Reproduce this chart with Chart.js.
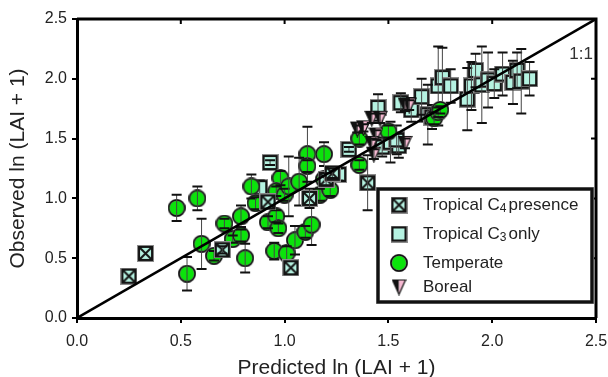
<!DOCTYPE html>
<html>
<head>
<meta charset="utf-8">
<script src="https://cdn.jsdelivr.net/npm/chart.js@4.4.1/dist/chart.umd.min.js"></script>
<style>
  html, body { margin: 0; padding: 0; background: #fff; }
  #wrap { width: 608px; height: 377px; }
</style>
</head>
<body>
<div id="wrap"><canvas id="grafico"></canvas></div>
<script>
const tickVals = [0, 0.5, 1.0, 1.5, 2.0, 2.5];
const nomes = ["Tropical C4 presence", "Tropical C3 only", "Temperate", "Boreal"];

const c4X = [0.25, 0.33, 0.70, 0.92, 1.03, 1.12, 1.20, 1.23, 1.40];
const c4Y = [0.35, 0.54, 0.57, 0.97, 0.42, 1.00, 1.16, 1.21, 1.13];
const c4Err = [0, 0, 0.03, 0, 0, 0.08, 0.05, 0.04, 0.23];

const c3X = [0.93, 0.88, 1.26, 1.31, 1.45, 1.47, 1.51, 1.55, 1.54, 1.56, 1.61, 1.66, 1.69, 1.71,
             1.74, 1.76, 1.80, 1.88, 1.90, 1.92, 1.95, 1.98, 2.01, 2.05, 2.10, 2.12, 2.14, 2.18];
const c3Y = [1.30, 1.09, 1.20, 1.41, 1.76, 1.43, 1.47, 1.44, 1.49, 1.80, 1.74, 1.85, 1.70, 1.68,
             1.94, 2.01, 1.94, 1.83, 1.94, 2.07, 1.95, 1.99, 1.96, 2.04, 1.97, 2.07, 1.98, 2.00];
const c3Err = [0.02, 0.06, 0.05, 0.02, 0.11, 0.08, 0.17, 0.10, 0.12, 0.08, 0.10, 0.15, 0.25, 0.10,
               0.33, 0.25, 0.14, 0.26, 0.20, 0.14, 0.32, 0.23, 0.12, 0.18, 0.18, 0.15, 0.27, 0.14];

const tempX = [0.48, 0.58, 0.53, 0.60, 0.66, 0.71, 0.75, 0.79, 0.79, 0.81, 0.84, 0.86, 0.92, 0.95,
               0.96, 0.97, 0.98, 0.96, 1.00, 1.02, 1.01, 1.05, 1.07, 1.11, 1.11, 1.10, 1.13, 1.19,
               1.17, 1.22, 1.19, 1.36, 1.36, 1.50, 1.72, 1.74, 1.75];
const tempY = [0.92, 1.00, 0.37, 0.62, 0.52, 0.79, 0.66, 0.69, 0.85, 0.50, 1.10, 0.96, 0.80, 0.56,
               0.85, 0.75, 1.17, 1.06, 1.03, 1.10, 0.54, 0.65, 1.14, 1.37, 1.27, 0.72, 0.78, 1.37,
               1.03, 1.07, 1.16, 1.28, 1.50, 1.56, 1.67, 1.72, 1.74];
const tempErr = [0.11, 0.10, 0.14, 0.21, 0.04, 0.04, 0.03, 0.05, 0.09, 0.12, 0.10, 0.05, 0.05, 0.07,
                 0.05, 0.04, 0.06, 0.04, 0.05, 0.25, 0.06, 0.12, 0.20, 0.23, 0.05, 0.05, 0.17, 0.10,
                 0.05, 0.05, 0.04, 0.04, 0.05, 0.05, 0.05, 0.04, 0.03];

const borX = [1.35, 1.38, 1.42, 1.46, 1.44, 1.42, 1.43, 1.58, 1.58, 1.60];
const borY = [1.58, 1.59, 1.67, 1.67, 1.53, 1.46, 1.37, 1.46, 1.78, 1.78];
const borErr = [0.03, 0.03, 0.04, 0.04, 0.04, 0.04, 0.04, 0.04, 0.05, 0.04];

const fonte = "'Liberation Sans', Arial, sans-serif";

function pontos(xs, ys) {
  return xs.map((x, i) => ({ x: x, y: ys[i] }));
}

// marcadores desenhados em canvas pequenos
function marcadorQuadrado(cruz) {
  const c = document.createElement("canvas");
  c.width = 17; c.height = 17;
  const g = c.getContext("2d");
  g.fillStyle = "#b5f2e1";
  g.fillRect(1, 1, 15, 15);
  g.strokeStyle = "#8c8c8c"; g.lineWidth = 1;
  g.strokeRect(0.5, 0.5, 16, 16);
  g.strokeStyle = "#151515"; g.lineWidth = 2;
  g.strokeRect(2, 2, 13, 13);
  if (cruz) {
    g.beginPath();
    g.moveTo(2.5, 2.5); g.lineTo(14.5, 14.5);
    g.moveTo(14.5, 2.5); g.lineTo(2.5, 14.5);
    g.stroke();
  }
  return c;
}

function marcadorCirculo() {
  const c = document.createElement("canvas");
  c.width = 18; c.height = 18;
  const g = c.getContext("2d");
  g.beginPath();
  g.arc(9, 9, 8, 0, Math.PI * 2);
  g.fillStyle = "#0be30b"; g.fill();
  g.strokeStyle = "#777"; g.lineWidth = 2.2; g.stroke();
  g.strokeStyle = "#111"; g.lineWidth = 1.4; g.stroke();
  return c;
}

function marcadorTriangulo() {
  const c = document.createElement("canvas");
  c.width = 15; c.height = 17;
  const g = c.getContext("2d");
  g.beginPath();
  g.moveTo(1, 1.5); g.lineTo(7.5, 1.5); g.lineTo(7.5, 16); g.closePath();
  g.fillStyle = "#111"; g.fill();
  g.beginPath();
  g.moveTo(7.5, 1.5); g.lineTo(14, 1.5); g.lineTo(7.5, 16); g.closePath();
  g.fillStyle = "#f6b9d2"; g.fill();
  g.beginPath();
  g.moveTo(1, 1.5); g.lineTo(14, 1.5); g.lineTo(7.5, 16); g.closePath();
  g.strokeStyle = "#111"; g.lineWidth = 1.2; g.stroke();
  return c;
}

const mkC4 = marcadorQuadrado(true);
const mkC3 = marcadorQuadrado(false);
const mkTemp = marcadorCirculo();
const mkBor = marcadorTriangulo();

// barras de erro desenhadas logo depois de cada serie
const barrasErro = {
  id: "barrasErro",
  afterDatasetDraw(chart, args) {
    const ds = chart.data.datasets[args.index];
    if (!ds.errs) return;
    const ctx = chart.ctx;
    const ys = chart.scales.y;
    ctx.save();
    args.meta.data.forEach((pt, i) => {
      const e = ds.errs[i];
      if (!e) return;
      const v = ds.data[i].y;
      const topo = ys.getPixelForValue(v + e);
      const base = ys.getPixelForValue(v - e);
      ctx.strokeStyle = "#444";
      ctx.lineWidth = 1;
      ctx.beginPath();
      ctx.moveTo(pt.x, topo); ctx.lineTo(pt.x, base);
      ctx.stroke();
      ctx.strokeStyle = "#111";
      ctx.lineWidth = 2;
      ctx.beginPath();
      ctx.moveTo(pt.x - 5, topo); ctx.lineTo(pt.x + 5, topo);
      ctx.moveTo(pt.x - 5, base); ctx.lineTo(pt.x + 5, base);
      ctx.stroke();
    });
    ctx.restore();
  }
};

// moldura, marcas internas, legenda e texto 1:1
const decoracao = {
  id: "decoracao",
  afterDraw(chart) {
    const ctx = chart.ctx;
    const a = chart.chartArea;
    const xs = chart.scales.x, ys = chart.scales.y;
    ctx.save();
    ctx.strokeStyle = "#000";
    ctx.lineWidth = 3;
    ctx.beginPath();
    ctx.moveTo(a.left, a.top); ctx.lineTo(a.right, a.top); ctx.lineTo(a.right, a.bottom);
    ctx.stroke();
    ctx.lineWidth = 2;
    ctx.beginPath();
    tickVals.slice(1, -1).forEach(v => {
      const px = xs.getPixelForValue(v);
      ctx.moveTo(px, a.top); ctx.lineTo(px, a.top + 5);
      const py = ys.getPixelForValue(v);
      ctx.moveTo(a.right, py); ctx.lineTo(a.right - 5, py);
    });
    ctx.stroke();

    ctx.fillStyle = "#333";
    ctx.font = "17px " + fonte;
    ctx.textAlign = "right";
    ctx.textBaseline = "alphabetic";
    ctx.fillText("1:1", 593, 59);

    // legenda
    const lx = 378, ly = 189, lw = 214, lh = 113;
    ctx.fillStyle = "#fff";
    ctx.fillRect(lx, ly, lw, lh);
    ctx.strokeStyle = "#8c8c8c"; ctx.lineWidth = 4;
    ctx.strokeRect(lx, ly, lw, lh);
    ctx.strokeStyle = "#111"; ctx.lineWidth = 3;
    ctx.strokeRect(lx, ly, lw, lh);

    const marcas = [mkC4, mkC3, mkTemp, mkBor];
    const linhasY = [205, 234, 263, 287];
    ctx.textAlign = "left";
    ctx.textBaseline = "middle";
    ctx.fillStyle = "#222";
    marcas.forEach((m, i) => {
      const cy = linhasY[i];
      ctx.drawImage(m, 399 - m.width / 2, cy - m.height / 2);
      const nome = nomes[i];
      const sub = nome.match(/C(\d)/);
      let tx = 423;
      ctx.font = "17px " + fonte;
      if (sub) {
        const antes = nome.slice(0, sub.index + 1);
        const depois = nome.slice(sub.index + 2).trim();
        ctx.fillText(antes, tx, cy);
        tx += ctx.measureText(antes).width;
        ctx.font = "12px " + fonte;
        ctx.fillText(sub[1], tx, cy + 4);
        tx += ctx.measureText(sub[1]).width + 2;
        ctx.font = "17px " + fonte;
        ctx.fillText(depois, tx, cy);
      } else {
        ctx.fillText(nome, tx, cy);
      }
    });
    ctx.restore();
  }
};

const eixoComum = {
  type: "linear",
  min: 0,
  max: 2.5,
  afterBuildTicks: s => { s.ticks = tickVals.map(v => ({ value: v })); },
  grid: { display: true, drawOnChartArea: false, drawTicks: true, tickLength: 5, color: "#000", lineWidth: 2 },
  border: { display: true, color: "#000", width: 3 },
};

new Chart(document.getElementById("grafico"), {
  type: "scatter",
  data: {
    datasets: [
      { label: nomes[1], data: pontos(c3X, c3Y), errs: c3Err, pointStyle: mkC3, order: 4 },
      { label: nomes[2], data: pontos(tempX, tempY), errs: tempErr, pointStyle: mkTemp, order: 3 },
      { label: nomes[0], data: pontos(c4X, c4Y), errs: c4Err, pointStyle: mkC4, order: 2 },
      { label: nomes[3], data: pontos(borX, borY), errs: borErr, pointStyle: mkBor, order: 1 },
      { label: "1:1", data: [{ x: 0, y: 0 }, { x: 2.5, y: 2.5 }], showLine: true,
        borderColor: "#000", borderWidth: 2.5, pointRadius: 0, order: 0 }
    ]
  },
  options: {
    responsive: true,
    maintainAspectRatio: false,
    animation: false,
    events: [],
    layout: { padding: { left: 0, right: 12, top: 19, bottom: 0 } },
    plugins: { legend: { display: false }, tooltip: { enabled: false } },
    scales: {
      x: Object.assign({}, eixoComum, {
        position: "bottom",
        afterFit: s => { s.height = 59; s.paddingLeft = 0; s.paddingRight = 0; },
        ticks: { padding: 9, color: "#222", font: { family: fonte, size: 16 }, callback: v => v.toFixed(1) },
        title: { display: true, text: "Predicted ln (LAI + 1)", color: "#222",
                 font: { family: fonte, size: 21, lineHeight: 0.85 }, padding: { top: 0, bottom: 0 } }
      }),
      y: Object.assign({}, eixoComum, {
        position: "left",
        afterFit: s => { s.width = 77; s.paddingTop = 0; s.paddingBottom = 0; },
        ticks: { padding: 5, color: "#222", font: { family: fonte, size: 16 }, callback: v => v.toFixed(1) },
        title: { display: true, text: "Observed ln (LAI + 1)", color: "#222",
                 font: { family: fonte, size: 21, lineHeight: 1 }, padding: { top: 8, bottom: 0 } }
      })
    }
  },
  plugins: [barrasErro, decoracao]
});
</script>
</body>
</html>
